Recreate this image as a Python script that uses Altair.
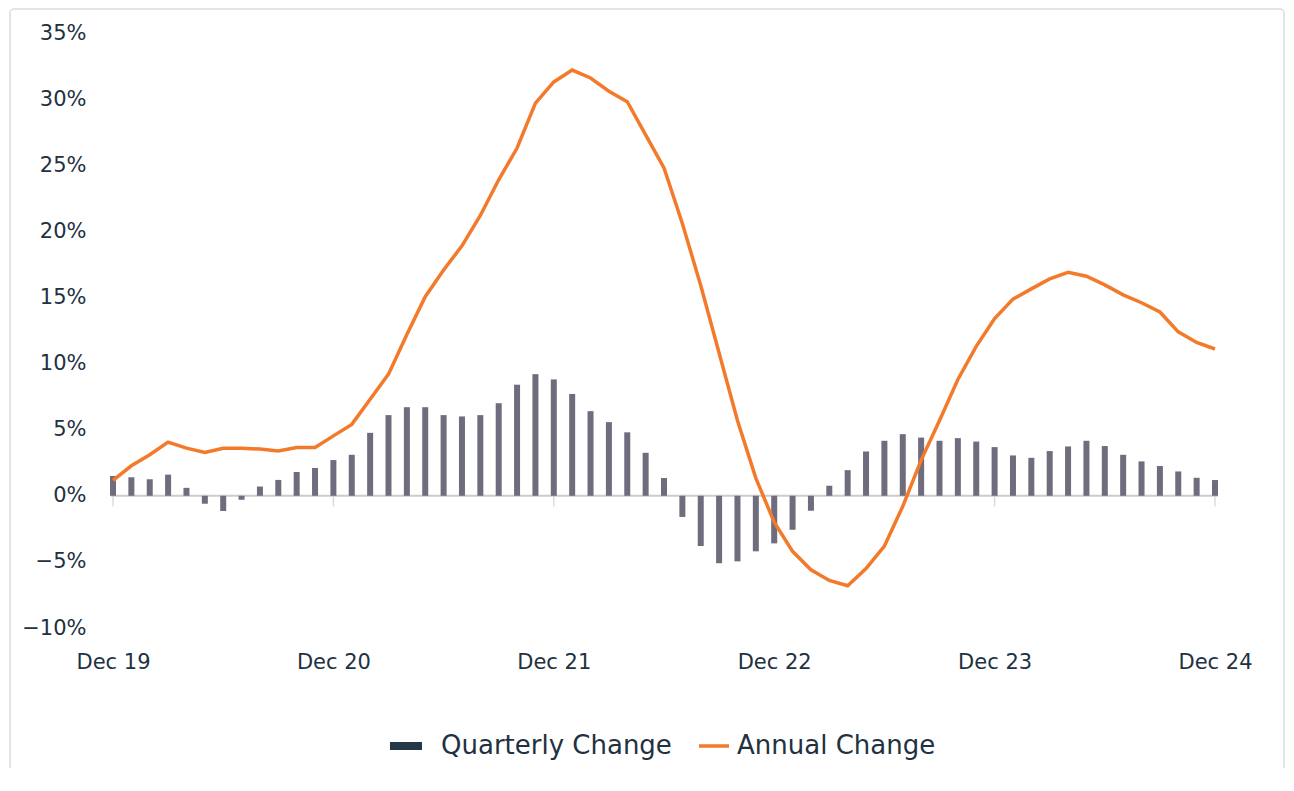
import altair as alt
import pandas as pd

year_labels = ["Dec 19", "Dec 20", "Dec 21", "Dec 22", "Dec 23", "Dec 24"]
quarterly = [1.5, 1.4, 1.25, 1.6, 0.6, -0.6, -1.15, -0.3, 0.7, 1.2, 1.8, 2.1,
             2.7, 3.1, 4.76, 6.1, 6.7, 6.7, 6.1, 6.0, 6.1, 7.0, 8.4, 9.2,
             8.8, 7.7, 6.4, 5.57, 4.8, 3.25, 1.34, -1.6, -3.8, -5.1, -4.96, -4.2,
             -3.6, -2.57, -1.13, 0.76, 1.94, 3.35, 4.16, 4.66, 4.4, 4.16, 4.36, 4.1,
             3.68, 3.05, 2.87, 3.38, 3.73, 4.16, 3.76, 3.1, 2.6, 2.25, 1.84, 1.36, 1.19]
annual = [1.16, 2.27, 3.1, 4.06, 3.6, 3.27, 3.6, 3.6, 3.53, 3.38, 3.65, 3.65,
          4.53, 5.4, 7.3, 9.2, 12.2, 15.06, 17.08, 18.9, 21.2, 23.9, 26.3, 29.7,
          31.3, 32.2, 31.6, 30.6, 29.8, 27.3, 24.8, 20.6, 15.9, 10.8, 5.7, 1.34,
          -2.0, -4.2, -5.6, -6.4, -6.8, -5.5, -3.8, -0.8, 2.7, 5.7, 8.8, 11.3,
          13.4, 14.87, 15.65, 16.4, 16.9, 16.6, 15.95, 15.2, 14.6, 13.9, 12.4, 11.6, 11.1]
months = list(range(len(annual)))

df = pd.DataFrame({"m": months, "q": quarterly, "a": annual})
ticks_df = pd.DataFrame({"m": [i * 12 for i in range(len(year_labels))]})

FONT = "DejaVu Sans"
TXT = "#22313f"
BAR = "#6e6c7d"
ORANGE = "#f27a2a"
W, H = 1102, 595

label_arr = "[" + ",".join("'" + s + "'" for s in year_labels) + "]"

xscale = alt.Scale(domain=[0, 60], nice=False, zero=False, padding=0)
yscale = alt.Scale(domain=[-10, 35], nice=False)

x_enc = alt.X("m:Q", scale=xscale, axis=alt.Axis(
    values=[0, 12, 24, 36, 48, 60], labelExpr=label_arr + "[round(datum.value/12)]",
    title=None, domain=False, ticks=False, grid=False, labelPadding=23,
    labelFontSize=21, labelFont=FONT, labelColor=TXT, labelFlush=False))
y_axis = alt.Axis(values=list(range(-10, 36, 5)),
                  labelExpr="(datum.value < 0 ? '\u2212' + abs(datum.value) : datum.value) + '%'",
                  title=None, domain=False, ticks=False, grid=False, labelPadding=27,
                  labelFontSize=21, labelFont=FONT, labelColor=TXT)

frame = alt.Chart(alt.Data(values=[{}])).mark_rect(
    fill="transparent", stroke="#dcdcdc", strokeWidth=1.5, cornerRadius=4).encode(
    x=alt.value(-103), x2=alt.value(1171), y=alt.value(-24), y2=alt.value(800))

bars = alt.Chart(df).mark_bar(size=6, color=BAR).encode(
    x=x_enc, y=alt.Y("q:Q", scale=yscale, axis=y_axis))

zero = alt.Chart(alt.Data(values=[{"v": 0}])).mark_rule(
    color="#cccccc", strokeWidth=2).encode(
    y=alt.Y("v:Q", scale=yscale), x=alt.value(-2), x2=alt.value(W + 3))

yticks = alt.Chart(ticks_df).mark_tick(
    orient="vertical", size=11, thickness=1.5, color="#cccccc", yOffset=5).encode(
    x=alt.X("m:Q", scale=xscale), y=alt.datum(0, scale=yscale))

line = alt.Chart(df).mark_line(color=ORANGE, strokeWidth=3.5, strokeJoin="miter").encode(
    x=alt.X("m:Q", scale=xscale), y=alt.Y("a:Q", scale=yscale))

one = alt.Data(values=[{}])
leg_q = alt.Chart(one).mark_rule(color="#263746", strokeWidth=8).encode(
    x=alt.value(277), x2=alt.value(309), y=alt.value(713))
leg_qt = alt.Chart(one).mark_text(align="left", baseline="middle", fontSize=26,
                                  font=FONT, color=TXT).encode(
    x=alt.value(328), y=alt.value(713), text=alt.value("Quarterly Change"))
leg_a = alt.Chart(one).mark_rule(color=ORANGE, strokeWidth=3.5).encode(
    x=alt.value(586), x2=alt.value(616), y=alt.value(713))
leg_at = alt.Chart(one).mark_text(align="left", baseline="middle", fontSize=26,
                                  font=FONT, color=TXT).encode(
    x=alt.value(624), y=alt.value(713), text=alt.value("Annual Change"))

chart = alt.layer(frame, zero, yticks, bars, line, leg_q, leg_qt, leg_a, leg_at).properties(
    width=W, height=H,
    autosize=alt.AutoSizeParams(type="none"),
    padding={"left": 105, "top": 25, "right": 70, "bottom": 140},
).configure(background="white").configure_view(strokeWidth=0, stroke="transparent")

chart.save("out.html", embed_options={"renderer": "svg", "actions": False})
